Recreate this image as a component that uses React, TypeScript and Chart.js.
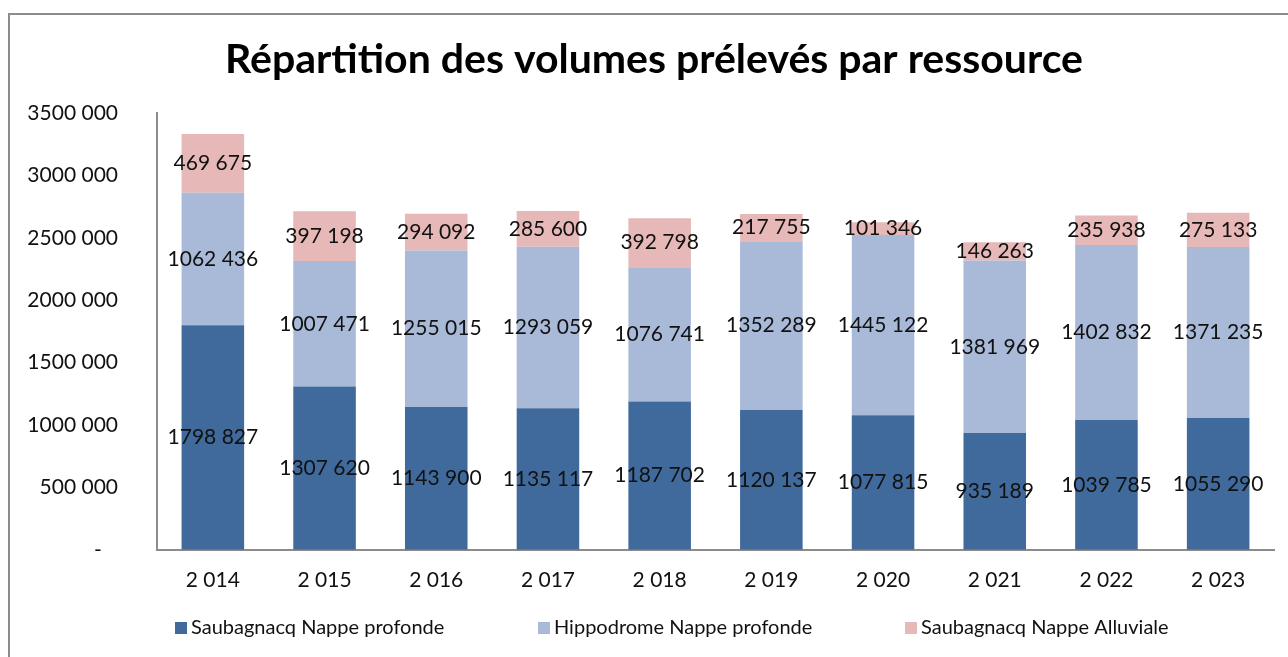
import React, { useEffect, useRef } from "react";
import { Chart, registerables } from "chart.js";

Chart.register(...registerables);

const years = [2014, 2015, 2016, 2017, 2018, 2019, 2020, 2021, 2022, 2023];
const saubagnacqProfonde = [1798827, 1307620, 1143900, 1135117, 1187702, 1120137, 1077815, 935189, 1039785, 1055290];
const hippodromeProfonde = [1062436, 1007471, 1255015, 1293059, 1076741, 1352289, 1445122, 1381969, 1402832, 1371235];
const saubagnacqAlluviale = [469675, 397198, 294092, 285600, 392798, 217755, 101346, 146263, 235938, 275133];
const seriesNames = ["Saubagnacq Nappe profonde", "Hippodrome Nappe profonde", "Saubagnacq Nappe Alluviale"];
const seriesColors = ["#406A9C", "#A9B9D8", "#E6B8B7"];
const titleText = "Répartition des volumes prélevés par ressource";

const FONT = "Lato";

function fmt(v: number): string {
  const n = Math.round(v);
  if (n < 1000) return String(n);
  const hi = Math.floor(n / 1000);
  const lo = String(n % 1000).padStart(3, "0");
  return hi + " " + lo;
}

const labelsPlugin = {
  id: "segLabels",
  afterDatasetsDraw(chart: any) {
    const ctx = chart.ctx;
    ctx.save();
    ctx.font = `21px ${FONT}`;
    ctx.fillStyle = "#111";
    ctx.textAlign = "center";
    ctx.textBaseline = "middle";
    chart.data.datasets.forEach((ds: any, i: number) => {
      const meta = chart.getDatasetMeta(i);
      meta.data.forEach((el: any, j: number) => {
        const p = el.getProps(["x", "y", "base"], true);
        ctx.fillText(fmt(ds.data[j]), p.x, (p.y + p.base) / 2);
      });
    });
    ctx.restore();
  },
};

const framePlugin = {
  id: "frame",
  beforeDraw(chart: any) {
    const ctx = chart.ctx;
    ctx.save();
    ctx.fillStyle = "#fff";
    ctx.fillRect(0, 0, chart.width, chart.height);
    ctx.strokeStyle = "#8c8c8c";
    ctx.lineWidth = 2;
    ctx.strokeRect(9, 14, chart.width + 20, chart.height + 20);
    ctx.restore();
  },
};

const titlePlugin = {
  id: "customTitle",
  afterDraw(chart: any) {
    const ctx = chart.ctx;
    ctx.save();
    ctx.font = `bold 41px ${FONT}`;
    ctx.fillStyle = "#000";
    ctx.textAlign = "center";
    ctx.textBaseline = "middle";
    ctx.fillText(titleText, 654, 60);
    ctx.restore();
  },
};

const legendPlugin = {
  id: "customLegend",
  afterDraw(chart: any) {
    const ctx = chart.ctx;
    const xs = [175, 538, 905];
    const yc = 628;
    ctx.save();
    ctx.font = `20px ${FONT}`;
    ctx.textBaseline = "middle";
    ctx.textAlign = "left";
    chart.data.datasets.forEach((ds: any, i: number) => {
      ctx.fillStyle = ds.backgroundColor;
      ctx.fillRect(xs[i], yc - 6, 12, 12);
      ctx.fillStyle = "#111";
      ctx.fillText(ds.label, xs[i] + 16, yc);
    });
    ctx.restore();
  },
};

export default function App() {
  const ref = useRef<HTMLCanvasElement>(null);
  useEffect(() => {
    document.body.style.margin = "0";
    const chart = new Chart(ref.current!, {
      type: "bar",
      data: {
        labels: years.map((y) => fmt(y)),
        datasets: [saubagnacqProfonde, hippodromeProfonde, saubagnacqAlluviale].map((d, i) => ({
          label: seriesNames[i],
          data: d,
          backgroundColor: seriesColors[i],
          borderWidth: 0,
          barPercentage: 0.56,
          categoryPercentage: 1,
        })),
      },
      options: {
        animation: false,
        responsive: false,
        layout: { padding: { left: 0, right: 14, top: 113, bottom: 46 } },
        plugins: {
          legend: { display: false },
          tooltip: { enabled: false },
          title: { display: false },
        },
        scales: {
          x: {
            stacked: true,
            grid: { display: false, drawTicks: false },
            border: { display: true, color: "#8c8c8c", width: 2 },
            ticks: { color: "#111", font: { family: FONT, size: 21 }, padding: 18 },
          },
          y: {
            stacked: true,
            min: 0,
            max: 3500000,
            grid: { display: false, drawTicks: false },
            border: { display: true, color: "#8c8c8c", width: 2 },
            afterFit: (s: any) => {
              s.width = 157;
            },
            ticks: {
              stepSize: 500000,
              color: "#111",
              padding: 39,
              font: { family: FONT, size: 21 },
              callback: (v: any) => (Number(v) === 0 ? "-   " : fmt(Number(v))),
            },
          },
        },
      },
      plugins: [framePlugin, labelsPlugin, titlePlugin, legendPlugin],
    });
    return () => chart.destroy();
  }, []);
  return <canvas ref={ref} width={1288} height={657} style={{ display: "block" }} />;
}
